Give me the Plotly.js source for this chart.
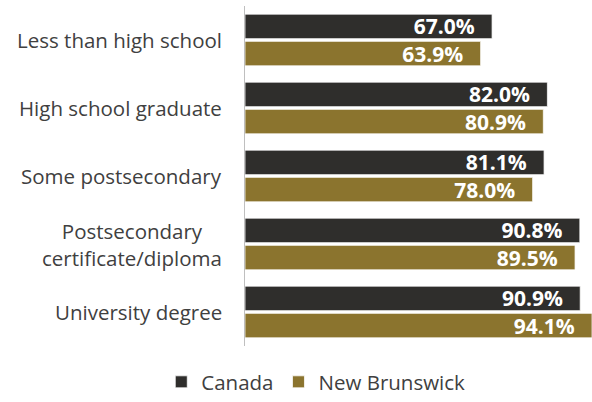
<!DOCTYPE html>
<html>
<head>
<meta charset="utf-8">
<script src="https://cdn.plot.ly/plotly-3.0.1.min.js"></script>
<style>html,body{margin:0;padding:0;background:#fff;}#chart{width:592px;height:402px;}</style>
</head>
<body>
<div id="chart"></div>
<script>
const categories = ["Less than high school", "High school graduate", "Some postsecondary", "Postsecondary<br>certificate/diploma", "University degree"];
const canada = [67.0, 82.0, 81.1, 90.8, 90.9];
const newBrunswick = [63.9, 80.9, 78.0, 89.5, 94.1];
const seriesNames = ["Canada", "New Brunswick"];

const pad = "\u00a0\u00a0\u2009";
function barTrace(name, values, color) {
  return {
    type: "bar",
    orientation: "h",
    name: name,
    y: categories,
    x: values,
    marker: {color: color, line: {color: "#ffffff", width: 0.75}},
    texttemplate: "%{x:.1f}%" + pad,
    textposition: "inside",
    insidetextanchor: "end",
    constraintext: "none",
    textfont: {family: "Open Sans", size: 21, color: "#ffffff", weight: "bold"},
    cliponaxis: true,
    hoverinfo: "skip"
  };
}

const data = [
  barTrace(seriesNames[0], canada, "#2f2e2c"),
  barTrace(seriesNames[1], newBrunswick, "#8b742e")
];

const annotations = categories.map(c => ({
  text: c, xref: "paper", x: 0, xshift: -21, xanchor: "right",
  yref: "y", y: c, yanchor: "middle", align: "center", showarrow: false,
  font: {family: "Open Sans", size: 20.5, color: "#404040"}
}));

const layout = {
  width: 592, height: 402,
  margin: {l: 245, r: 0, t: 6, b: 56},
  paper_bgcolor: "#ffffff", plot_bgcolor: "#ffffff",
  barmode: "group", bargap: 0.2, bargroupgap: 0.1,
  font: {family: "Open Sans", color: "#404040"},
  xaxis: {range: [0, 94.1], showgrid: false, zeroline: false, showticklabels: false, ticks: "", showline: false, fixedrange: true},
  yaxis: {autorange: "reversed", showticklabels: false, ticks: "", showgrid: false, zeroline: false,
          showline: true, linecolor: "#bfbfbf", linewidth: 1.5, fixedrange: true},
  showlegend: true,
  legend: {orientation: "h", traceorder: "normal", xref: "container", yref: "container", x: 0.5334, xanchor: "center", y: 0, yanchor: "bottom",
           bgcolor: "rgba(0,0,0,0)", font: {family: "Open Sans", size: 20.5, color: "#404040"}, itemwidth: 30},
  annotations: annotations
};

Plotly.newPlot("chart", data, layout, {displayModeBar: false, staticPlot: true});
</script>
</body>
</html>
